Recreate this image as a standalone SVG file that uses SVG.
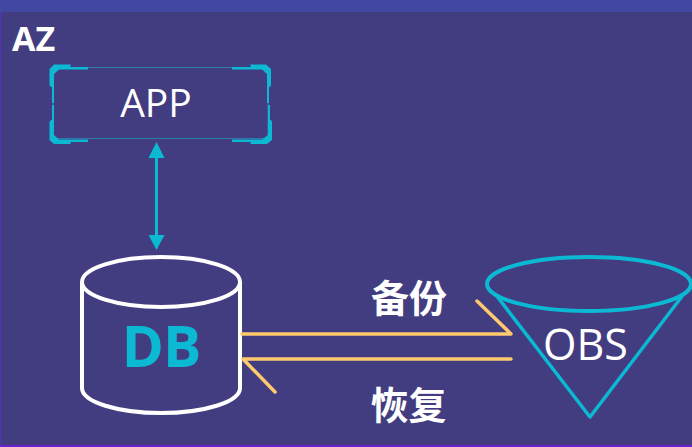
<svg xmlns="http://www.w3.org/2000/svg" width="692" height="447" viewBox="0 0 692 447">
<style>
.t{font-family:"Open Sans","Noto Sans","Noto Sans CJK SC",sans-serif;fill:#fff}
.b{font-weight:700}
.cjk{font-family:"Noto Sans CJK SC",sans-serif;font-weight:700;fill:#fff;font-size:38px}
.cy{fill:none;stroke:#0cb9d3;stroke-linecap:round;stroke-linejoin:round}
.co{fill:none;stroke:#ffc96e;stroke-width:3.5;stroke-linecap:round;stroke-linejoin:round}
.w{fill:none;stroke:#fff;stroke-width:4}
.f{fill:#0cb9d3}
</style>
<rect width="692" height="447" fill="#423d80"/>
<rect width="692" height="12" fill="#4148a2"/>
<rect y="12" width="1" height="435" fill="#5a2fc0"/>
<rect y="445" width="692" height="2" fill="#6c22c9"/>
<text id="az" class="t b" x="12" y="51" font-size="34">AZ</text>
<g id="app">
<rect x="53" y="67.500" width="215" height="71" rx="3" fill="none" stroke="#2a7ea8" stroke-width="1"/>
<path class="f" d="M49.500 69L54 64.500H71L70 67H88V69.500H59L54 74V87L51 87L49.500 85Z"/>
<path class="f" d="M52 87H54V103H52Z"/>
<path class="f" d="M271 69L266 64.500H250L251 67H232V69.500H262L267 74V87L270 87L271 85Z"/>
<path class="f" d="M267 87H269V103H267Z"/>
<path class="f" d="M49.500 140L54 144H71L70 142H88V139.500H59L54 135V120L51 120L49.500 122Z"/>
<path class="f" d="M52 105H54V120H52Z"/>
<path class="f" d="M272 140L267 144H250L251 142H232V139.500H262L268 135V120L271 120L272 122Z"/>
<path class="f" d="M268 105H270V120H268Z"/>
<text class="t" x="156" y="117" font-size="39" text-anchor="middle">APP</text>
</g>
<g id="db">
<path class="w" d="M82 282V388C82 402 118 413 161 413S240 402 240 388V282"/>
<ellipse class="w" cx="161" cy="282" rx="79" ry="25"/>
<text class="b" x="161" y="367" font-family="'Open Sans','Noto Sans',sans-serif" font-size="57" letter-spacing="-1" fill="#0cb9d3" text-anchor="middle">DB</text>
</g>
<g id="obs">
<path class="cy" stroke-width="3.500" d="M496 295L590 417L683 295"/>
<ellipse class="cy" stroke-width="4" cx="589" cy="284" rx="102" ry="27"/>
<text class="t" x="585.500" y="360" font-size="43" text-anchor="middle">OBS</text>
</g>
<g id="connectors">
<path class="cy" stroke-width="3" d="M156.500 150V240"/>
<path class="f" d="M156.500 142L164.500 158H148.500ZM156.500 250L148.500 235H164.500Z"/>
<path class="co" d="M242 334H511L477 301"/>
<path class="co" d="M511 359H243L275 392"/>
</g>
<text id="backup" class="cjk" x="409" y="312" text-anchor="middle">备份</text>
<text id="restore" class="cjk" x="408.500" y="419" text-anchor="middle">恢复</text>
</svg>
